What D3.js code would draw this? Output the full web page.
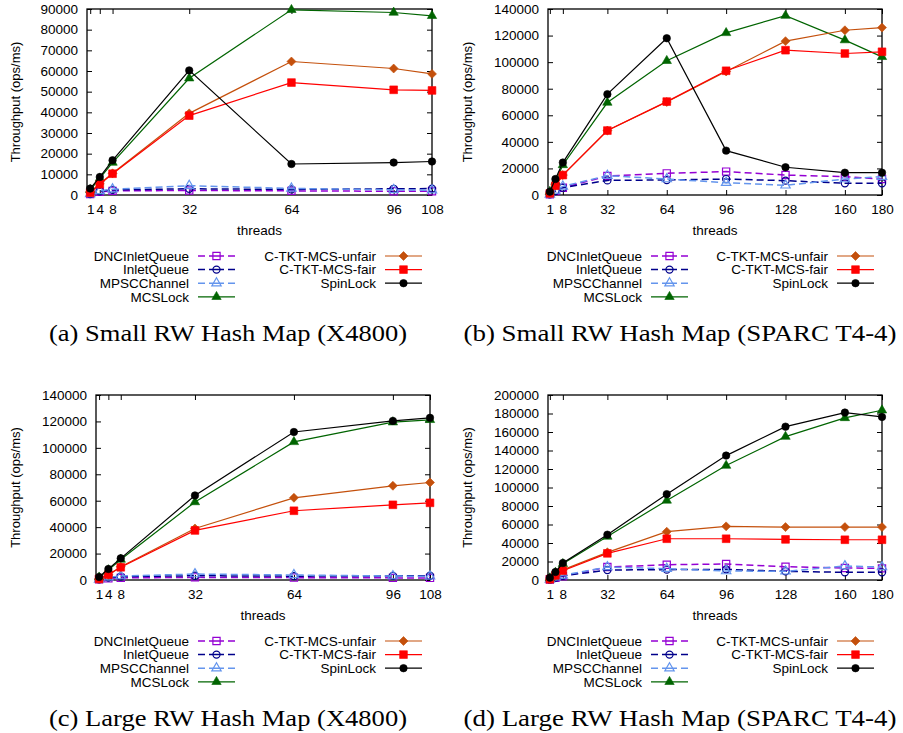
<!DOCTYPE html>
<html>
<head>
<meta charset="utf-8">
<script src="https://cdn.jsdelivr.net/npm/d3@7"></script>
<style>
  body { margin: 0; background: #fff; }
  text { font-family: "Liberation Sans", Arial, sans-serif; }
</style>
</head>
<body>
<svg id="fig" width="903" height="733"></svg>
<script>
// ---- data ----
var seriesNames = ["DNCInletQueue", "InletQueue", "MPSCChannel", "MCSLock",
                   "C-TKT-MCS-unfair", "C-TKT-MCS-fair", "SpinLock"];

var threadsX4800 = [1, 4, 8, 32, 64, 96, 108];
var threadsT44   = [1, 4, 8, 32, 64, 96, 128, 160, 180];
var xTicksX4800  = [1, 4, 8, 32, 64, 96, 108];
var xTicksT44    = [1, 8, 32, 64, 96, 128, 160, 180];

var yTicks90k  = [0, 10000, 20000, 30000, 40000, 50000, 60000, 70000, 80000, 90000];
var yTicks140k = [0, 20000, 40000, 60000, 80000, 100000, 120000, 140000];
var yTicks200k = [0, 20000, 40000, 60000, 80000, 100000, 120000, 140000, 160000, 180000, 200000];

// rows follow seriesNames order
var smallX4800 = [
  [500, 1500, 2000, 2200, 2000, 1800, 1800],
  [500, 1800, 2500, 3000, 2700, 3000, 3100],
  [500, 2000, 2800, 4500, 3200, 2500, 2300],
  [2500, 8000, 15700, 56500, 89600, 88300, 86700],
  [1500, 5500, 10500, 39500, 64600, 61200, 58600],
  [1100, 5200, 10300, 38400, 54400, 50900, 50600],
  [3100, 8700, 16800, 60300, 15000, 15700, 16200]
];
var smallT44 = [
  [500, 3000, 5500, 14300, 16300, 17600, 15000, 13800, 12000],
  [500, 3000, 5500, 11000, 11300, 12000, 10800, 8800, 8800],
  [500, 3500, 6500, 14600, 12000, 9300, 7300, 12000, 13800],
  [2500, 10000, 22600, 69600, 101000, 122000, 135000, 116600, 104000],
  [1500, 7000, 15000, 48500, 70000, 93000, 115800, 124000, 126000],
  [1200, 7000, 15000, 48500, 70300, 93500, 109000, 106500, 107800],
  [2500, 12000, 24400, 75900, 118000, 33400, 20900, 16800, 16800]
];
var largeX4800 = [
  [500, 1200, 1600, 2000, 1800, 1600, 1600],
  [500, 1800, 2600, 3200, 2900, 3100, 3200],
  [500, 2200, 3000, 4500, 3800, 3000, 2800],
  [2000, 7500, 15500, 59000, 104500, 119400, 121200],
  [1000, 4000, 10000, 39000, 62200, 71300, 73800],
  [800, 4000, 9600, 37500, 52400, 56900, 58400],
  [2300, 8300, 16400, 64000, 112000, 120400, 122700]
];
var largeT44 = [
  [500, 2500, 4000, 14000, 16500, 17300, 14400, 13000, 12600],
  [500, 2500, 4500, 10800, 11200, 11500, 9400, 8300, 8300],
  [500, 3000, 5000, 14000, 12200, 9700, 9400, 15100, 14000],
  [2000, 8000, 17500, 47000, 86000, 123700, 155000, 175200, 183500],
  [1000, 5000, 11000, 29900, 52200, 58000, 57200, 57200, 57200],
  [800, 5000, 10000, 28800, 44600, 44600, 43900, 43500, 43500],
  [2500, 8600, 18300, 49000, 92800, 134500, 165800, 181000, 176300]
];

var captions = ["(a) Small RW Hash Map (X4800)", "(b) Small RW Hash Map (SPARC T4-4)",
                "(c) Large RW Hash Map (X4800)", "(d) Large RW Hash Map (SPARC T4-4)"];

// ---- styles ----
var styles = [
  {color: "#9400d3", dash: true,  shape: "square",   fill: false},
  {color: "#00008b", dash: true,  shape: "circle",   fill: false},
  {color: "#6495ed", dash: true,  shape: "triangle", fill: false},
  {color: "#006400", dash: false, shape: "triangle", fill: true},
  {color: "#c4500c", dash: false, shape: "diamond",  fill: true},
  {color: "#ff0000", dash: false, shape: "square",   fill: true},
  {color: "#000000", dash: false, shape: "circle",   fill: true}
];

var panels = [
  {left: 87,  right: 432, top: 9,   bottom: 195, xmax: 108, threads: threadsX4800, xt: xTicksX4800, yt: yTicks90k,  vals: smallX4800, legL: 189, legR: 376, capX: 228, ylabX: 15},
  {left: 548, right: 882, top: 9,   bottom: 195, xmax: 180, threads: threadsT44,   xt: xTicksT44,   yt: yTicks140k, vals: smallT44,   legL: 642, legR: 828, capX: 680, ylabX: 467},
  {left: 96,  right: 430, top: 395, bottom: 580, xmax: 108, threads: threadsX4800, xt: xTicksX4800, yt: yTicks140k, vals: largeX4800, legL: 189, legR: 376, capX: 228, ylabX: 15},
  {left: 548, right: 882, top: 395, bottom: 580, xmax: 180, threads: threadsT44,   xt: xTicksT44,   yt: yTicks200k, vals: largeT44,   legL: 642, legR: 828, capX: 680, ylabX: 467}
];

var svg = d3.select("#fig");
var fs = 13.5;

function marker(g, st, cx, cy) {
  var sym;
  if (st.shape === "square") sym = d3.symbol().type(d3.symbolSquare).size(st.fill ? 60 : 52);
  else if (st.shape === "circle") sym = d3.symbol().type(d3.symbolCircle).size(st.fill ? 44 : 40);
  else if (st.shape === "triangle") sym = d3.symbol().type(d3.symbolTriangle).size(38);
  else sym = d3.symbol().type(d3.symbolSquare).size(40);
  g.append("path")
    .attr("d", sym())
    .attr("transform", "translate(" + cx + "," + cy + ")" + (st.shape === "diamond" ? " rotate(45)" : ""))
    .attr("fill", st.fill ? st.color : "none")
    .attr("stroke", st.color)
    .attr("stroke-width", st.fill ? 0.6 : 1.2);
}

panels.forEach(function(p, pi) {
  var x = d3.scaleLinear().domain([0, p.xmax]).range([p.left, p.right]);
  var y = d3.scaleLinear().domain([0, p.yt[p.yt.length - 1]]).range([p.bottom, p.top]);
  var g = svg.append("g");

  // axes with inward ticks
  g.append("g").attr("transform", "translate(" + p.left + ",0)")
    .call(d3.axisLeft(y).tickValues(p.yt).tickSize(-5).tickPadding(9).tickFormat(d3.format("d")));
  g.append("g").attr("transform", "translate(" + p.right + ",0)")
    .call(d3.axisRight(y).tickValues(p.yt).tickSize(-5).tickFormat(""));
  g.append("g").attr("transform", "translate(0," + p.bottom + ")")
    .call(d3.axisBottom(x).tickValues(p.xt).tickSize(-5).tickPadding(9));
  g.append("g").attr("transform", "translate(0," + p.top + ")")
    .call(d3.axisTop(x).tickValues(p.xt).tickSize(-5).tickFormat(""));
  g.selectAll(".domain").remove();
  g.selectAll(".tick line").attr("stroke", "#000").attr("stroke-width", 1);
  g.selectAll(".tick text").attr("font-size", fs).attr("fill", "#000")
    .style("font-family", "'Liberation Sans', Arial, sans-serif");

  g.append("rect")
    .attr("x", p.left).attr("y", p.top)
    .attr("width", p.right - p.left).attr("height", p.bottom - p.top)
    .attr("fill", "none").attr("stroke", "#000").attr("stroke-width", 1.3);

  // series
  var line = d3.line().x(function(d) { return x(d[0]); }).y(function(d) { return y(d[1]); });
  p.vals.forEach(function(v, si) {
    var st = styles[si];
    var pts = p.threads.map(function(t, i) { return [t, v[i]]; });
    g.append("path").datum(pts)
      .attr("d", line)
      .attr("fill", "none")
      .attr("stroke", st.color)
      .attr("stroke-width", st.dash ? 1.5 : 1.2)
      .attr("stroke-dasharray", st.dash ? "7,4" : null);
    pts.forEach(function(d) { marker(g, st, x(d[0]), y(d[1])); });
  });

  // axis titles
  g.append("text")
    .attr("transform", "translate(" + p.ylabX + "," + ((p.top + p.bottom) / 2) + ") rotate(-90)")
    .attr("text-anchor", "middle").attr("dy", "0.35em")
    .attr("font-size", 13).text("Throughput (ops/ms)");
  g.append("text")
    .attr("x", (p.left + p.right) / 2).attr("y", p.bottom + 40)
    .attr("text-anchor", "middle").attr("font-size", fs).text("threads");

  // legend: 4 rows left, 3 rows right
  seriesNames.forEach(function(name, si) {
    var st = styles[si];
    var col = si < 4 ? 0 : 1;
    var row = si < 4 ? si : si - 4;
    var tx = col === 0 ? p.legL : p.legR;
    var ly = p.bottom + 61 + row * 13.6;
    g.append("text")
      .attr("x", tx).attr("y", ly).attr("dy", "0.35em")
      .attr("text-anchor", "end").attr("font-size", fs).text(name);
    var x0 = tx + 9, x1 = tx + 46;
    g.append("line")
      .attr("x1", x0).attr("x2", x1).attr("y1", ly).attr("y2", ly)
      .attr("stroke", st.color)
      .attr("stroke-width", st.dash ? 1.5 : 1.2)
      .attr("stroke-dasharray", st.dash ? "7,4,15,4,7" : null);
    marker(g, st, (x0 + x1) / 2, ly);
  });

  // caption (serif, widened to the width of the original Computer Modern text)
  g.append("text")
    .attr("x", p.capX).attr("y", p.bottom + 138).attr("dy", "0.35em")
    .attr("text-anchor", "middle")
    .style("font-family", "'Liberation Serif', 'Times New Roman', serif")
    .attr("font-size", 23)
    .attr("textLength", pi % 2 === 0 ? 358 : 433)
    .attr("lengthAdjust", "spacingAndGlyphs")
    .text(captions[pi]);
});
</script>
</body>
</html>
